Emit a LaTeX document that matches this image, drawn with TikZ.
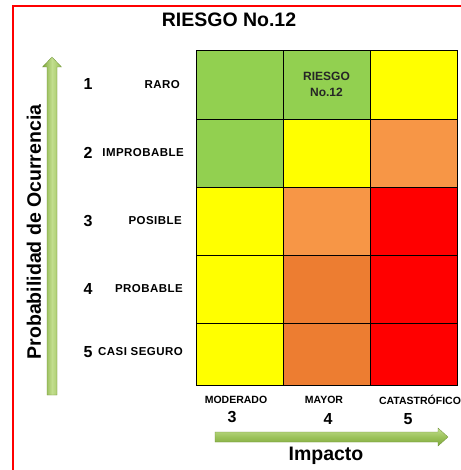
\documentclass[tikz,border=0pt]{standalone}
\usepackage{fontspec}
\setmainfont{Liberation Sans}
\definecolor{cgreen}{HTML}{92D050}
\definecolor{cyellow}{HTML}{FFFF00}
\definecolor{corange}{HTML}{F79646}
\definecolor{cdorange}{HTML}{ED7D31}
\definecolor{cred}{HTML}{FF0000}
\definecolor{agreenD}{HTML}{7FA83C}
\definecolor{agreenM}{HTML}{9BC25A}
\definecolor{agreenL}{HTML}{C2DE8E}
\begin{document}
\begin{tikzpicture}[x=1pt,y=-1pt,
  cell/.style={draw=black, line width=0.9pt, minimum width=87pt, anchor=north west, inner sep=0pt, outer sep=0pt},
  lbl/.style={font=\bfseries\fontsize{11.5}{12}\selectfont\addfontfeatures{LetterSpace=4}, anchor=east, inner sep=0pt},
  num/.style={font=\bfseries\fontsize{16}{18}\selectfont, inner sep=0pt},
  blbl/.style={font=\bfseries\fontsize{10.5}{12}\selectfont, inner sep=0pt},
  big/.style={font=\bfseries\fontsize{19.5}{22}\selectfont, inner sep=0pt},
  arrowshape/.style={draw=agreenD!85!black, line width=0.3pt}
]
\useasboundingbox (0,0) rectangle (460,470);
\fill[white] (0,0) rectangle (460,470);
% red frame
\draw[cred, line width=1.5pt] (470,6) -- (13,6) -- (13,480);

% title
\node[big] (title) at (229,20) {RIESGO No.12};

% grid cells
\node[cell, fill=cgreen,  minimum height=69pt] (c11) at (196,50) {};
\node[cell, fill=cgreen,  minimum height=69pt, align=center, font=\bfseries\fontsize{12}{16}\selectfont, text=black!85] (c12) at (283,50) {RIESGO\\No.12};
\node[cell, fill=cyellow, minimum height=69pt] (c13) at (370,50) {};
\node[cell, fill=cgreen,  minimum height=68pt] (c21) at (196,119) {};
\node[cell, fill=cyellow, minimum height=68pt] (c22) at (283,119) {};
\node[cell, fill=corange, minimum height=68pt] (c23) at (370,119) {};
\node[cell, fill=cyellow, minimum height=68pt] (c31) at (196,187) {};
\node[cell, fill=corange, minimum height=68pt] (c32) at (283,187) {};
\node[cell, fill=cred,    minimum height=68pt] (c33) at (370,187) {};
\node[cell, fill=cyellow, minimum height=68pt] (c41) at (196,255) {};
\node[cell, fill=cdorange,minimum height=68pt] (c42) at (283,255) {};
\node[cell, fill=cred,    minimum height=68pt] (c43) at (370,255) {};
\node[cell, fill=cyellow, minimum height=62pt] (c51) at (196,323) {};
\node[cell, fill=cdorange,minimum height=62pt] (c52) at (283,323) {};
\node[cell, fill=cred,    minimum height=62pt] (c53) at (370,323) {};

% row numbers and labels
\node[num] (n1) at (88,84) {1};
\node[num] (n2) at (88,153) {2};
\node[num] (n3) at (88,221) {3};
\node[num] (n4) at (88,289) {4};
\node[num] (n5) at (88,352) {5};
\node[lbl] (l1) at (180,85) {RARO};
\node[lbl] (l2) at (184,153) {IMPROBABLE};
\node[lbl] (l3) at (182,221) {POSIBLE};
\node[lbl] (l4) at (183,289) {PROBABLE};
\node[lbl] (l5) at (183,352) {CASI SEGURO};

% column labels
\node[blbl] (m3) at (236,400) {MODERADO};
\node[num]  (k3) at (232,417) {3};
\node[blbl] (m4) at (324,400) {MAYOR};
\node[num]  (k4) at (328,419) {4};
\node[blbl] (m5) at (420,400) {CATASTRÓFICO};
\node[num]  (k5) at (408,419) {5};

% vertical arrow
\coordinate (vtip) at (52,57);
\path[arrowshape, left color=agreenD, right color=agreenM, middle color=agreenL]
  (vtip) -- (61.5,67) -- (57,67) -- (57,395) -- (47,395) -- (47,67) -- (42.5,67) -- cycle;
\node[big, rotate=90] (ylab) at (34,232) {Probabilidad de Ocurrencia};

% horizontal arrow
\coordinate (htip) at (448,437);
\path[arrowshape, top color=agreenL, bottom color=agreenD, middle color=agreenM]
  (htip) -- (438,446) -- (438,442) -- (215,442) -- (215,432) -- (438,432) -- (438,428) -- cycle;
\node[big, anchor=base] (xlab) at (326,460) {Impacto};
\end{tikzpicture}
\end{document}
